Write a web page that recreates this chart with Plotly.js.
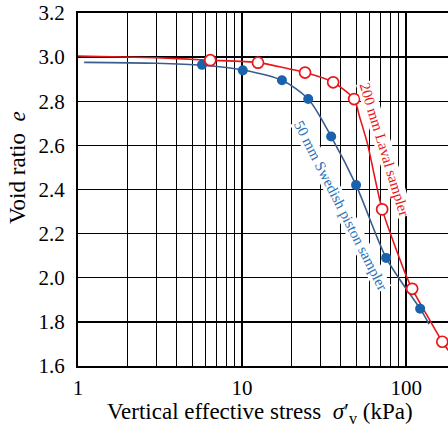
<!DOCTYPE html>
<html>
<head>
<meta charset="utf-8">
<script src="https://cdn.plot.ly/plotly-3.0.1.min.js"></script>
<style>html,body{margin:0;padding:0;background:#fff;overflow:hidden;}</style>
</head>
<body>
<div id="chart" style="width:448px;height:427px;"></div>
<script>
// Measured points: 50 mm Swedish piston sampler (filled)
const swedishStress = [5.7, 10.1, 17.5, 25.3, 34.9, 49.5, 75.5, 121.7];
const swedishVoid   = [2.965, 2.94, 2.895, 2.81, 2.64, 2.42, 2.09, 1.86];
// Fitted curve for Swedish sampler
const swedishCurveStress = [1.09, 3, 5.7, 10.1, 17.5, 25.3, 34.9, 49.5, 75.5, 100, 121.7, 138];
const swedishCurveVoid   = [2.976, 2.972, 2.963, 2.942, 2.895, 2.81, 2.64, 2.42, 2.09, 1.95, 1.86, 1.79];

// Measured points: 200 mm Laval sampler (open)
const lavalStress = [6.4, 12.5, 24.2, 35.9, 48.2, 71.4, 108.8, 166];
const lavalVoid   = [2.986, 2.975, 2.93, 2.886, 2.81, 2.31, 1.95, 1.71];
// Fitted curve for Laval sampler
const lavalCurveStress = [1, 3, 6.4, 12.5, 24.2, 35.9, 48.2, 52, 58, 71.4, 100, 108.8, 166, 185];
const lavalCurveVoid   = [3.005, 2.997, 2.986, 2.975, 2.93, 2.886, 2.81, 2.73, 2.61, 2.31, 2.01, 1.95, 1.71, 1.66];

const xMajorTicks = [1, 10, 100];
const xMajorLabels = ['1', '10', '100'];
const xMinorTicks = [2,3,4,5,6,7,8,9,20,30,40,50,60,70,80,90];
const yTicks = [1.6, 1.8, 2.0, 2.2, 2.4, 2.6, 2.8, 3.0, 3.2];

const serif = "'Liberation Serif', 'Times New Roman', serif";
const RED = '#e8161b';
const BLUE_LINE = '#3a5d8f';
const BLUE_MK = '#1b62ad';
const BLUE_TXT = '#2d72ba';

const traces = [
  {x: swedishCurveStress, y: swedishCurveVoid, mode: 'lines', line: {color: BLUE_LINE, width: 1.6, shape: 'spline', smoothing: 0.8}, hoverinfo: 'skip'},
  {x: lavalCurveStress, y: lavalCurveVoid, mode: 'lines', line: {color: RED, width: 1.6, shape: 'spline', smoothing: 0.6}, hoverinfo: 'skip'},
  {x: swedishStress, y: swedishVoid, mode: 'markers', marker: {color: BLUE_MK, size: 10, line: {width: 0}}},
  {x: lavalStress, y: lavalVoid, mode: 'markers', marker: {color: 'white', size: 11, line: {color: RED, width: 1.7}}}
];

const layout = {
  width: 448, height: 427,
  margin: {l: 78, r: 0, t: 13, b: 61},
  paper_bgcolor: 'white', plot_bgcolor: 'white',
  showlegend: false,
  font: {family: serif, color: 'black', size: 21},
  xaxis: {
    type: 'log', range: [0, 2.255],
    tickmode: 'array', tickvals: xMajorTicks, ticktext: xMajorLabels,
    showgrid: true, gridcolor: 'black', gridwidth: 2.6,
    showline: true, linecolor: 'black', linewidth: 2, mirror: true,
    ticks: '', ticklabelstandoff: 2,
    tickfont: {family: serif, size: 21, color: 'black'},
    minor: {tickmode: 'array', tickvals: xMinorTicks, showgrid: true, gridcolor: 'black', gridwidth: 1.2, ticks: ''},
    zeroline: false
  },
  yaxis: {
    range: [1.6, 3.2],
    tickmode: 'array', tickvals: yTicks, ticktext: yTicks.map(v => v.toFixed(1)),
    showgrid: true, gridcolor: 'black', gridwidth: 1.3,
    showline: true, linecolor: 'black', linewidth: 2, mirror: false,
    ticks: '', ticklabelstandoff: 7,
    tickfont: {family: serif, size: 21, color: 'black'},
    zeroline: false
  },
  annotations: [
    {text: '200 mm Laval sampler', x: 1.870, y: 2.58, xref: 'x', yref: 'y', showarrow: false,
     textangle: 73, font: {family: serif, size: 15, color: RED}, bgcolor: 'white', borderpad: 0},
    {text: '50 mm Swedish piston sampler', x: 1.60, y: 2.33, xref: 'x', yref: 'y', showarrow: false,
     textangle: 63, font: {family: serif, size: 15, color: BLUE_TXT}, bgcolor: 'white', borderpad: 0},
    {text: 'Vertical effective stress  <i>σ</i>′<sub>v</sub> (kPa)', x: 0.492, y: -0.134, xref: 'paper', yref: 'paper',
     showarrow: false, xanchor: 'center', yanchor: 'middle', font: {family: serif, size: 23, color: 'black'}},
    {text: 'Void ratio  <i>e</i>', x: -0.162, y: 0.561, xref: 'paper', yref: 'paper',
     showarrow: false, textangle: -90, xanchor: 'center', yanchor: 'middle', font: {family: serif, size: 23, color: 'black'}}
  ]
};

Plotly.newPlot('chart', traces, layout, {displayModeBar: false, staticPlot: true});
</script>
</body>
</html>
